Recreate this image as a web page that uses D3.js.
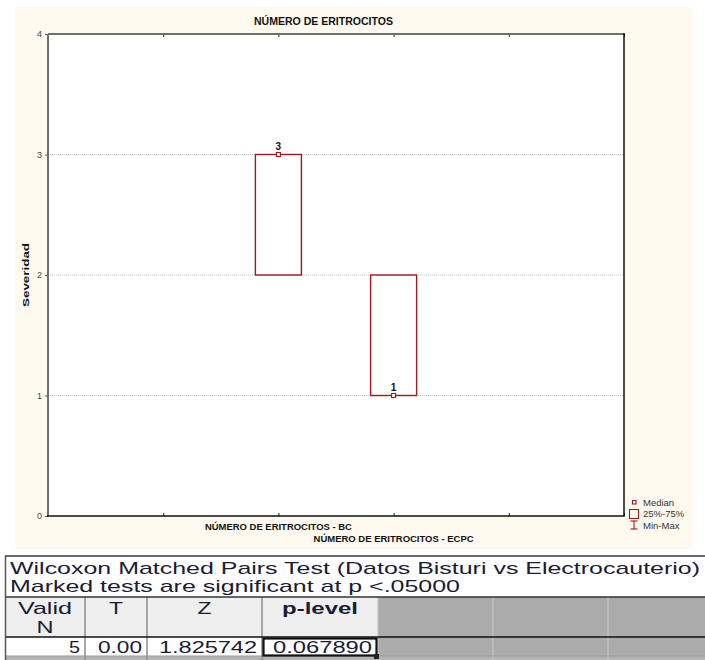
<!DOCTYPE html>
<html>
<head>
<meta charset="utf-8">
<script src="https://cdn.jsdelivr.net/npm/d3@7"></script>
<style>
  html, body { margin: 0; padding: 0; background: #ffffff; }
  svg { display: block; }
</style>
</head>
<body>
<svg id="chart" width="705" height="660"></svg>
<script>
// ---- data ----
const categories = ["NÚMERO DE ERITROCITOS - BC", "NÚMERO DE ERITROCITOS - ECPC"];
const medians = [3, 1];
const q25 = [2, 1];
const q75 = [3, 2];
const mins = [2, 1];
const maxs = [3, 2];
const yTicks = [0, 1, 2, 3, 4];
const chartTitle = "NÚMERO DE ERITROCITOS";
const yTitle = "Severidad";
const legendItems = ["Median", "25%-75%", "Min-Max"];

const tableTitle1 = "Wilcoxon Matched Pairs Test (Datos Bisturi vs Electrocauterio)";
const tableTitle2 = "Marked tests are significant at p <.05000";
const tableHeaders = [["Valid", "N"], ["T"], ["Z"], ["p-level"]];
const tableRow = ["5", "0.00", "1.825742", "0.067890"];

// ---- layout ----
const svg = d3.select("#chart");
const plot = { left: 48, right: 624, top: 34, bottom: 516 };
const boxColor = "#9a1c1c";
const ink = "#1b1b35";

// cream graph background
svg.append("rect").attr("x", 15).attr("y", 7).attr("width", 678).attr("height", 542)
  .attr("fill", "#fffaef");

const x = d3.scaleLinear().domain([-2, 3]).range([plot.left, plot.right]);
const y = d3.scaleLinear().domain([0, 4]).range([plot.bottom, plot.top]);

// plot area
svg.append("rect").attr("x", plot.left).attr("y", plot.top)
  .attr("width", plot.right - plot.left).attr("height", plot.bottom - plot.top)
  .attr("fill", "#ffffff");

// horizontal grid
svg.append("g").selectAll("line").data(yTicks.filter(d => d > 0 && d < 4)).join("line")
  .attr("x1", plot.left).attr("x2", plot.right)
  .attr("y1", d => y(d)).attr("y2", d => y(d))
  .attr("stroke", "#c4c4c4").attr("stroke-width", 1).attr("stroke-dasharray", "1,1");

// axes
const yAxis = d3.axisLeft(y).tickValues(yTicks).tickSize(3).tickPadding(3).tickFormat(d3.format("d"));
const gy = svg.append("g").attr("transform", `translate(${plot.left},0)`).call(yAxis);
gy.select(".domain").remove();
gy.selectAll(".tick line").attr("stroke", "#555");
gy.selectAll(".tick text").attr("fill", "#444").style("font", "9px 'Liberation Sans', Arial, sans-serif");

const xTickVals = d3.range(-2, 4);
const xAxisB = d3.axisBottom(x).tickValues(xTickVals).tickSize(-3).tickFormat("");
const gxb = svg.append("g").attr("transform", `translate(0,${plot.bottom})`).call(xAxisB);
gxb.select(".domain").remove();
gxb.selectAll(".tick line").attr("stroke", "#222");

const xAxisT = d3.axisTop(x).tickValues(xTickVals).tickSize(-3).tickFormat("");
const gxt = svg.append("g").attr("transform", `translate(0,${plot.top})`).call(xAxisT);
gxt.select(".domain").remove();
gxt.selectAll(".tick line").attr("stroke", "#222");

// frame: gray top/left, black right/bottom
svg.append("line").attr("x1", plot.left).attr("x2", plot.right).attr("y1", plot.top).attr("y2", plot.top)
  .attr("stroke", "#6e6e6e").attr("stroke-width", 2);
svg.append("line").attr("x1", plot.left).attr("x2", plot.left).attr("y1", plot.top).attr("y2", plot.bottom)
  .attr("stroke", "#6e6e6e").attr("stroke-width", 2);
svg.append("line").attr("x1", plot.right).attr("x2", plot.right).attr("y1", plot.top - 1).attr("y2", plot.bottom)
  .attr("stroke", "#111").attr("stroke-width", 1.5);
svg.append("line").attr("x1", plot.left - 1).attr("x2", plot.right + 0.75).attr("y1", plot.bottom).attr("y2", plot.bottom)
  .attr("stroke", "#111").attr("stroke-width", 1.5);

// boxes
const boxW = 46;
const boxes = svg.append("g");
categories.forEach((c, i) => {
  const cx = x(i);
  // whiskers (min-max)
  boxes.append("line").attr("x1", cx).attr("x2", cx).attr("y1", y(maxs[i])).attr("y2", y(q75[i]))
    .attr("stroke", boxColor).attr("stroke-width", 1.2);
  boxes.append("line").attr("x1", cx).attr("x2", cx).attr("y1", y(q25[i])).attr("y2", y(mins[i]))
    .attr("stroke", boxColor).attr("stroke-width", 1.2);
  // 25%-75% box
  boxes.append("rect").attr("x", cx - boxW / 2).attr("y", y(q75[i]))
    .attr("width", boxW).attr("height", y(q25[i]) - y(q75[i]))
    .attr("fill", "none").attr("stroke", boxColor).attr("stroke-width", 1.4);
  // median marker
  boxes.append("rect").attr("x", cx - 2).attr("y", y(medians[i]) - 2)
    .attr("width", 4).attr("height", 4)
    .attr("fill", "#fff").attr("stroke", boxColor).attr("stroke-width", 1.1);
  // median label
  boxes.append("text").attr("x", cx).attr("y", y(medians[i]) - 5)
    .attr("text-anchor", "middle").attr("fill", "#111")
    .style("font", "bold 10px 'Liberation Sans', Arial, sans-serif")
    .text(d3.format("d")(medians[i]));
});

// category labels, staggered
const labelY = [530, 542];
const labelW = [147, 160];
categories.forEach((c, i) => {
  svg.append("text").attr("x", x(i)).attr("y", labelY[i]).attr("text-anchor", "middle")
    .attr("fill", "#111").attr("textLength", labelW[i]).attr("lengthAdjust", "spacingAndGlyphs")
    .style("font", "bold 9px 'Liberation Sans', Arial, sans-serif").text(c);
});

// chart title
svg.append("text").attr("x", 323.5).attr("y", 24.5).attr("text-anchor", "middle")
  .attr("fill", "#111").attr("textLength", 139).attr("lengthAdjust", "spacingAndGlyphs")
  .style("font", "bold 11px 'Liberation Sans', Arial, sans-serif").text(chartTitle);

// y title
svg.append("text").attr("transform", "translate(28.5,275) rotate(-90)").attr("text-anchor", "middle")
  .attr("fill", "#111").attr("textLength", 64).attr("lengthAdjust", "spacingAndGlyphs")
  .style("font", "bold 9.5px 'Liberation Sans', Arial, sans-serif").text(yTitle);

// legend
const lg = svg.append("g");
lg.append("rect").attr("x", 632.5).attr("y", 500.5).attr("width", 3.5).attr("height", 3.5)
  .attr("fill", "#fff").attr("stroke", boxColor).attr("stroke-width", 1.1);
lg.append("rect").attr("x", 629.5).attr("y", 509.5).attr("width", 9).attr("height", 9)
  .attr("fill", "none").attr("stroke", boxColor).attr("stroke-width", 1.1);
lg.append("line").attr("x1", 634).attr("x2", 634).attr("y1", 521).attr("y2", 529).attr("stroke", boxColor).attr("stroke-width", 1.1);
lg.append("line").attr("x1", 630.5).attr("x2", 637.5).attr("y1", 521).attr("y2", 521).attr("stroke", boxColor).attr("stroke-width", 1.1);
lg.append("line").attr("x1", 630.5).attr("x2", 637.5).attr("y1", 529).attr("y2", 529).attr("stroke", boxColor).attr("stroke-width", 1.1);
const legendY = [505.5, 517, 528.5];
legendItems.forEach((t, i) => {
  lg.append("text").attr("x", 643).attr("y", legendY[i]).attr("fill", "#333")
    .style("font", "9.5px 'Liberation Sans', Arial, sans-serif").text(t);
});

// ---- results table ----
const tg = svg.append("g");
const tFont = "'Liberation Sans', Arial, sans-serif";
tg.append("rect").attr("x", 5).attr("y", 556).attr("width", 700).attr("height", 104).attr("fill", "#ffffff");

const colEdges = [5, 85, 147, 262, 378, 493, 608, 705];
const headTop = 597, headBot = 637, rowBot = 656;

// header and empty cells
for (let c = 0; c < colEdges.length - 1; c++) {
  const filled = c < 4;
  tg.append("rect").attr("x", colEdges[c]).attr("y", headTop)
    .attr("width", colEdges[c + 1] - colEdges[c]).attr("height", headBot - headTop)
    .attr("fill", filled ? "#efefef" : "#ababab");
  tg.append("rect").attr("x", colEdges[c]).attr("y", headBot)
    .attr("width", colEdges[c + 1] - colEdges[c]).attr("height", rowBot - headBot)
    .attr("fill", filled ? "#ffffff" : "#ababab");
}
tg.append("rect").attr("x", 5).attr("y", rowBot).attr("width", 700).attr("height", 660 - rowBot).attr("fill", "#b4b4b4");

// column separators
colEdges.slice(1, -1).forEach((cx, i) => {
  tg.append("line").attr("x1", cx).attr("x2", cx).attr("y1", headTop).attr("y2", 660)
    .attr("stroke", i < 3 ? "#8c8c8c" : "#c6c6c6").attr("stroke-width", i < 3 ? 1.5 : 1.2);
});
tg.append("line").attr("x1", 5).attr("x2", 705).attr("y1", rowBot).attr("y2", rowBot)
  .attr("stroke", "#9a9a9a").attr("stroke-width", 1);

// horizontal rules
tg.append("line").attr("x1", 5).attr("x2", 705).attr("y1", 556).attr("y2", 556).attr("stroke", "#6a6a6a").attr("stroke-width", 2);
tg.append("line").attr("x1", 5).attr("x2", 705).attr("y1", headTop).attr("y2", headTop).attr("stroke", "#333").attr("stroke-width", 1.5);
tg.append("line").attr("x1", 5).attr("x2", 705).attr("y1", headBot).attr("y2", headBot).attr("stroke", "#111").attr("stroke-width", 1.5);
tg.append("line").attr("x1", 5.5).attr("x2", 5.5).attr("y1", 556).attr("y2", 660).attr("stroke", "#555").attr("stroke-width", 1.5);

// titles
tg.append("text").attr("x", 10).attr("y", 573.5).attr("fill", ink)
  .attr("textLength", 690).attr("lengthAdjust", "spacingAndGlyphs")
  .style("font", `17px ${tFont}`).text(tableTitle1);
tg.append("text").attr("x", 10).attr("y", 592).attr("fill", ink)
  .attr("textLength", 450).attr("lengthAdjust", "spacingAndGlyphs")
  .style("font", `17px ${tFont}`).text(tableTitle2);

// headers
const headerW = [[54, 17], [14], [14], [76]];
tableHeaders.forEach((lines, c) => {
  const cx = (colEdges[c] + colEdges[c + 1]) / 2;
  lines.forEach((t, k) => {
    tg.append("text").attr("x", cx).attr("y", 614 + k * 19).attr("text-anchor", "middle")
      .attr("fill", ink).attr("textLength", headerW[c][k]).attr("lengthAdjust", "spacingAndGlyphs")
      .style("font", `${c === 3 ? "bold " : ""}16px ${tFont}`).text(t);
  });
});

// data row
const cellW = [11, 44, 98, 99];
tableRow.forEach((t, c) => {
  const isSel = c === 3;
  tg.append("text")
    .attr("x", isSel ? 273 : colEdges[c + 1] - 5)
    .attr("y", 652.5)
    .attr("text-anchor", isSel ? "start" : "end")
    .attr("fill", ink).attr("textLength", cellW[c]).attr("lengthAdjust", "spacingAndGlyphs")
    .style("font", `16px ${tFont}`).text(t);
});
// selected cell outline
tg.append("rect").attr("x", 263.5).attr("y", 638.5).attr("width", 113).attr("height", 17)
  .attr("fill", "none").attr("stroke", "#111").attr("stroke-width", 2.2);
tg.append("rect").attr("x", 374).attr("y", 654).attr("width", 5).attr("height", 5).attr("fill", "#222");
</script>
</body>
</html>
